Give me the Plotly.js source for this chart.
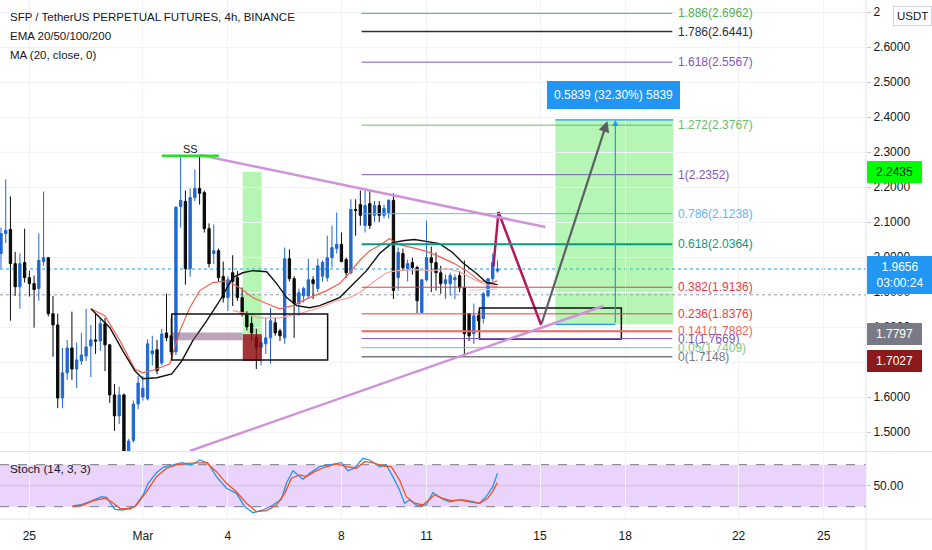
<!DOCTYPE html>
<html><head><meta charset="utf-8">
<script src="https://cdn.plot.ly/plotly-3.0.1.min.js"></script>
<style>html,body{margin:0;padding:0;background:#fff;}#chart{width:932px;height:550px;}</style>
</head><body><div id="chart"></div>
<script>
// ---------- DATA ----------
// 4h candles, first candle = Feb 24 00:00; x axis unit = days relative to Mar 1
const firstCandleDay = -5;
const candleStepDays = 1 / 6;
const candleOpen = [2.010,2.067,2.079,1.981,1.915,1.984,1.941,1.924,1.910,1.987,1.998,1.838,1.806,1.597,1.669,1.740,1.680,1.703,1.717,1.746,1.763,1.760,1.809,1.749,1.606,1.546,1.606,1.445,1.476,1.580,1.600,1.595,1.723,1.735,1.697,1.783,1.775,1.729,2.144,2.159,1.967,2.170,2.196,2.184,2.081,2.010,2.018,1.944,1.884,1.955,1.941,1.884,1.838,1.810,1.770,1.742,1.752,1.769,1.812,1.789,1.769,1.995,1.938,1.867,1.889,1.889,1.935,1.910,1.945,1.941,1.998,2.024,2.036,1.993,1.955,2.136,2.150,2.090,2.153,2.119,2.147,2.119,2.127,2.162,1.941,2.010,1.967,1.984,1.970,1.841,1.935,1.998,1.984,1.955,1.924,1.924,1.935,1.947,1.912,1.838,1.781,1.832,1.824,1.889,1.938,1.960];
const candleHigh = [2.084,2.222,2.173,2.015,2.010,2.081,1.961,1.947,2.067,2.187,2.000,1.889,1.838,1.740,1.763,1.844,1.755,1.783,1.852,1.806,1.838,1.826,1.826,1.752,1.637,1.629,1.610,1.480,1.590,1.660,1.660,1.765,1.775,1.763,1.795,1.895,1.826,2.145,2.285,2.190,2.196,2.250,2.289,2.190,2.096,2.093,2.024,1.987,1.945,2.005,1.960,1.913,1.845,1.830,1.795,1.775,1.826,1.855,1.826,1.795,2.027,2.022,1.945,1.910,1.915,1.995,1.945,1.995,1.990,2.061,2.090,2.127,2.070,1.998,2.165,2.165,2.190,2.190,2.190,2.160,2.160,2.150,2.165,2.182,2.027,2.024,1.993,1.998,1.975,1.935,2.104,2.030,2.013,1.975,1.950,1.955,1.950,1.960,1.990,1.840,1.867,1.845,1.900,1.938,2.010,1.990];
const candleLow = [1.967,2.040,1.818,1.889,1.852,1.927,1.887,1.798,1.875,1.975,1.830,1.715,1.568,1.568,1.649,1.649,1.626,1.692,1.703,1.657,1.723,1.732,1.674,1.583,1.503,1.523,1.425,1.425,1.470,1.565,1.590,1.590,1.690,1.665,1.690,1.760,1.720,1.720,2.084,1.921,1.944,2.160,2.150,2.070,1.970,1.980,1.930,1.870,1.846,1.860,1.875,1.830,1.790,1.760,1.680,1.690,1.723,1.695,1.775,1.760,1.752,1.930,1.769,1.832,1.870,1.880,1.880,1.900,1.930,1.930,1.970,2.010,1.985,1.940,1.950,2.061,2.090,2.070,2.080,2.100,2.100,2.110,2.110,1.880,1.904,1.960,1.930,1.950,1.840,1.841,1.930,1.900,1.904,1.895,1.880,1.890,1.880,1.900,1.718,1.760,1.752,1.790,1.810,1.885,1.930,1.955];
const candleClose = [2.067,2.076,1.981,1.915,1.981,1.941,1.924,1.907,1.990,1.998,1.838,1.806,1.597,1.669,1.740,1.680,1.706,1.720,1.743,1.763,1.760,1.809,1.749,1.606,1.546,1.606,1.445,1.474,1.580,1.640,1.625,1.752,1.732,1.675,1.780,1.769,1.729,2.142,2.162,1.967,2.170,2.196,2.182,2.081,1.981,2.018,1.941,1.884,1.935,1.930,1.884,1.838,1.800,1.783,1.742,1.755,1.769,1.818,1.783,1.775,1.995,1.938,1.867,1.898,1.910,1.935,1.924,1.975,1.985,1.998,2.027,2.036,1.987,1.955,2.136,2.133,2.119,2.147,2.090,2.147,2.119,2.139,2.162,1.904,2.013,1.970,1.981,1.970,1.875,1.935,1.998,1.984,1.955,1.924,1.935,1.947,1.941,1.912,1.781,1.775,1.832,1.818,1.895,1.938,1.984,1.9656];

// Indicator lines
const ma20Days = [-1.831,-1.162,-0.704,-0.282,0,0.493,1.021,1.373,1.761,2.254,2.711,3.169,3.521,3.873,4.366,4.718,5.070,5.423,5.880,6.232,6.937,7.289,7.887,8.345,8.803,9.225,9.577,10.035,10.458,10.915,11.268,11.761,12.113,12.5];
const ma20Vals = [1.852,1.798,1.732,1.675,1.652,1.655,1.666,1.703,1.761,1.818,1.875,1.941,1.955,1.961,1.958,1.924,1.884,1.861,1.855,1.861,1.884,1.912,1.961,2.010,2.041,2.047,2.050,2.044,2.038,2.013,1.984,1.953,1.927,1.921];
const ema20Days = [-1.831,-1.338,-0.810,-0.282,0,0.493,0.951,1.303,1.655,2.007,2.465,2.958,3.415,3.873,4.366,4.824,5.282,5.880,6.479,6.937,7.289,7.641,7.993,8.345,8.697,8.979,9.507,10.0,10.458,10.915,11.408,11.866,12.324,12.5];
const ema20Vals = [1.852,1.832,1.761,1.680,1.669,1.680,1.695,1.789,1.855,1.904,1.927,1.932,1.912,1.884,1.867,1.852,1.861,1.884,1.904,1.924,1.955,1.990,2.018,2.033,2.053,2.036,2.027,2.016,2.001,1.984,1.961,1.932,1.927,1.932];
const ema50Days = [3.17,3.662,4.120,4.824,5.528,6.232,6.831,7.289,7.641,8.099,8.592,8.944,9.648,10.211,10.704,11.162,11.761,12.218,12.5];
const ema50Vals = [1.847,1.838,1.826,1.826,1.838,1.855,1.875,1.884,1.898,1.927,1.955,1.961,1.964,1.961,1.967,1.958,1.932,1.918,1.915];
const ema100Days = [11.5,12.5];
const ema100Vals = [1.905,1.908];

// Stochastic (14,3,3)
const stochKDays = [-2.475,-2.218,-1.866,-1.454,-1.278,-0.986,-0.694,-0.458,-0.282,0.011,0.187,0.482,0.715,1.067,1.363,1.715,2.007,2.299,2.595,2.947,3.299,3.592,3.884,4.236,4.588,4.884,5.060,5.292,5.468,5.644,5.880,6.232,6.585,6.996,7.229,7.465,7.757,7.993,8.345,8.581,8.813,9.049,9.225,9.401,9.694,9.989,10.222,10.574,10.810,11.162,11.454,11.866,12.102,12.335,12.5];
const stochK = [21.0,22.4,27.1,34.3,33.4,16.3,15.3,17.7,20,36.7,53.4,68.6,76.3,79.6,82.9,79.6,86.7,82,62.9,46.3,39.1,20,11.4,15.3,22.4,30.6,53.4,71.4,65.3,59.1,67.7,77.1,79.6,82.9,71.4,74.9,89.1,86.7,77.1,79.6,62.9,43.9,24.9,29.6,21,22.4,40,30.6,27.1,29.6,27.1,24.9,34.3,48.6,67.7];
const stochDDays = [-2.475,-2.102,-1.750,-1.338,-1.102,-0.810,-0.458,-0.222,0.130,0.482,0.835,1.187,1.539,1.891,2.243,2.595,2.947,3.299,3.651,4.004,4.356,4.708,5.0,5.236,5.528,5.764,6.056,6.408,6.820,7.173,7.525,7.817,8.109,8.461,8.757,9.049,9.285,9.577,9.870,10.282,10.574,10.870,11.278,11.630,11.866,12.158,12.33,12.5];
const stochD = [20,22.4,28.6,32,27.1,17.7,16.7,22.4,41.4,62.9,74.9,79.6,82,82,82.9,70,53.4,41.4,24.9,12.9,14.3,22.4,39.1,60.6,65.3,62.9,70,76.3,81,77.1,74.9,84.3,82.9,78.1,77.1,58.1,34.3,24.9,22.4,36.7,32,28.6,29.6,27.1,24.9,32,42,54.3];

// Fibonacci levels
const fibRatios = ['1.886','1.786','1.618','1.272','1','0.786','0.618','0.382','0.236','0.141','0.1','0.05','0'];
const fibPrices = [2.6962,2.6441,2.5567,2.3767,2.2352,2.1238,2.0364,1.9136,1.8376,1.7882,1.7669,1.7409,1.7148];
const fibColors = ['#4caf50','#2a2e39','#7e57c2','#66bb6a','#7e57c2','#64b5f6','#089981','#f23645','#f23645','#f7625a','#7e57c2','#81c784','#787b86'];
const fibWidths = [1,1.5,1,1,1,1,2,1,1,2,1,1,1.5];

// Price-scale ticks (top one is mostly hidden behind the USDT badge, 1.7 hidden behind the stop label)
const priceTicks = [1.5,1.6,1.7,1.8,1.9,2.0,2.1,2.2,2.3,2.4,2.5,2.6,2.7];
const priceTickLabels = ['1.5000','1.6000','','1.8000','1.9000','2.0000','2.1000','2.2000','2.3000','2.4000','2.5000','2.6000','2'];

// Drawings (days / prices)
const fibStartDay = 7.711, fibEndDay = 18.662, fibLabelDay = 18.80;
const descTrend = {d:[2.007,14.19], p:[2.2914,2.0857]};
const ascTrend = {d:[1.655,16.232], p:[1.4457,1.86]};
const highLine = {d:[0.669,2.676], p:2.2894};
const position = {d:[3.521,4.190], entry:1.7797, stop:1.7027, target:2.2435};
const entryBar = {d:[1.021,3.511], p:[1.762,1.784]};
const box1 = {d:[1.021,6.514], p:[1.7057,1.8371]};
const box2 = {d:[11.866,16.866], p:[1.7657,1.8543]};
const measure = {d:[14.542,18.697], mid:16.655, base:1.8077, top:2.3916, text:'0.5839 (32.30%) 5839'};
const pathDays = [12.359,12.535,14.039];
const pathPrices = [1.974,2.1286,1.8057];
const arrowEnd = {d:16.373, p:2.3886};
const lastPrice = 1.9656, countdown = '03:00:24', grayDotted = 1.892;

const tickDays = [-4,0,3,7,10,14,17,21,24];
const tickText = ['25','Mar','4','8','11','15','18','22','25'];

// ---------- BUILD ----------
const FONT = 'Liberation Sans, Arial, sans-serif';
const PW = 866, PH = 519;
const px = x => x / PW;
const py = y => (PH - y) / PH;
const candleDays = candleOpen.map((_, i) => firstCandleDay + i * candleStepDays);

const traces = [
  {type:'candlestick', x:candleDays, open:candleOpen, high:candleHigh, low:candleLow, close:candleClose,
   xaxis:'x', yaxis:'y', whiskerwidth:0, hoverinfo:'skip',
   increasing:{line:{color:'#1f67d2', width:1}, fillcolor:'#1f67d2'},
   decreasing:{line:{color:'#0a0a0a', width:1}, fillcolor:'#0a0a0a'}},
  {type:'scatter', mode:'lines', x:ema50Days, y:ema50Vals, line:{color:'#f6a398', width:1.2}, hoverinfo:'skip'},
  {type:'scatter', mode:'lines', x:ema100Days, y:ema100Vals, line:{color:'#f8c2bb', width:1.2}, hoverinfo:'skip'},
  {type:'scatter', mode:'lines', x:ema20Days, y:ema20Vals, line:{color:'#f2604f', width:1.2}, hoverinfo:'skip'},
  {type:'scatter', mode:'lines', x:ma20Days, y:ma20Vals, line:{color:'#111', width:1.4}, hoverinfo:'skip'},
  {type:'scatter', mode:'lines', x:pathDays, y:pathPrices, line:{color:'#b0195b', width:2.5}, hoverinfo:'skip'},
  {type:'scatter', mode:'lines', x:stochKDays, y:stochK, xaxis:'x', yaxis:'y2', line:{color:'#2196f3', width:1.3}, hoverinfo:'skip'},
  {type:'scatter', mode:'lines', x:stochDDays, y:stochD, xaxis:'x', yaxis:'y2', line:{color:'#f4511e', width:1.3}, hoverinfo:'skip'}
];

const shapes = [];
const ln = (x0,y0,x1,y1,color,width,extra) => Object.assign({type:'line', xref:'x', yref:'y', x0, y0, x1, y1, line:{color, width}, layer:'above'}, extra||{});
shapes.push({type:'rect', xref:'paper', yref:'y2', x0:0, x1:1, y0:20, y1:80, fillcolor:'#ead4fb', line:{width:0}, layer:'below'});
shapes.push({type:'line', xref:'paper', yref:'y2', x0:0, x1:1, y0:50, y1:50, line:{color:'rgba(120,123,134,0.22)', width:1}, layer:'below'});
shapes.push({type:'line', xref:'paper', yref:'y2', x0:0, x1:1, y0:80, y1:80, line:{color:'#787b86', width:1, dash:'dash'}, layer:'below'});
shapes.push({type:'line', xref:'paper', yref:'y2', x0:0, x1:1, y0:20, y1:20, line:{color:'#787b86', width:1, dash:'dash'}, layer:'below'});
shapes.push({type:'line', xref:'paper', yref:'paper', x0:0, x1:932/PW, y0:py(451.5), y1:py(451.5), line:{color:'#e0e3eb', width:1}});
shapes.push({type:'line', xref:'paper', yref:'paper', x0:0, x1:932/PW, y0:0, y1:0, line:{color:'#e0e3eb', width:1}});
shapes.push({type:'line', xref:'paper', yref:'paper', x0:1, x1:1, y0:py(550), y1:1, line:{color:'#e0e3eb', width:1}});
shapes.push({type:'line', xref:'paper', yref:'y', x0:0, x1:1, y0:grayDotted, y1:grayDotted, line:{color:'#9598a1', width:1, dash:'dot'}, layer:'below'});
shapes.push({type:'line', xref:'paper', yref:'y', x0:0, x1:1, y0:lastPrice, y1:lastPrice, line:{color:'#2196f3', width:1, dash:'dot'}, layer:'below'});
shapes.push({type:'rect', xref:'x', yref:'y', x0:measure.d[0], x1:measure.d[1], y0:measure.base, y1:measure.top, fillcolor:'rgba(60,232,60,0.38)', line:{width:0}, layer:'below'});
shapes.push({type:'rect', xref:'x', yref:'y', x0:position.d[0], x1:position.d[1], y0:position.entry, y1:position.target, fillcolor:'rgba(60,232,60,0.38)', line:{width:0}, layer:'below'});
shapes.push({type:'rect', xref:'x', yref:'y', x0:position.d[0], x1:position.d[1], y0:position.stop, y1:position.entry, fillcolor:'rgba(139,10,10,0.82)', line:{width:0}, layer:'above'});
shapes.push({type:'rect', xref:'x', yref:'y', x0:entryBar.d[0], x1:entryBar.d[1], y0:entryBar.p[0], y1:entryBar.p[1], fillcolor:'rgba(120,75,120,0.5)', line:{width:0}, layer:'above'});
shapes.push({type:'rect', xref:'x', yref:'y', x0:box1.d[0], x1:box1.d[1], y0:box1.p[0], y1:box1.p[1], line:{color:'#111', width:1.5}, layer:'above'});
shapes.push({type:'rect', xref:'x', yref:'y', x0:box2.d[0], x1:box2.d[1], y0:box2.p[0], y1:box2.p[1], line:{color:'#111', width:1.5}, layer:'above'});
fibPrices.forEach((p, i) => shapes.push(ln(fibStartDay, p, fibEndDay, p, fibColors[i], fibWidths[i])));
shapes.push(ln(measure.d[0], measure.top, measure.d[1], measure.top, '#2196f3', 1.2));
shapes.push(ln(measure.d[0], measure.base, measure.mid, measure.base, '#2196f3', 1.2));
shapes.push(ln(descTrend.d[0], descTrend.p[0], descTrend.d[1], descTrend.p[1], '#cf93d9', 2.5));
shapes.push(ln(ascTrend.d[0], ascTrend.p[0], ascTrend.d[1], ascTrend.p[1], '#cf93d9', 2.5));
shapes.push(ln(highLine.d[0], highLine.p, highLine.d[1], highLine.p, '#22e022', 2.5));

const annotations = [];
const hdr = (t, y, size) => ({xref:'paper', yref:'paper', x:px(8), y:py(y), xanchor:'left', yanchor:'middle', text:t, showarrow:false, font:{family:FONT, size:size||11.5, color:'#131722'}});
annotations.push(hdr('SFP / TetherUS PERPETUAL FUTURES, 4h, BINANCE', 17));
annotations.push(hdr('EMA 20/50/100/200', 36));
annotations.push(hdr('MA (20, close, 0)', 55));
annotations.push(hdr('Stoch (14, 3, 3)', 469, 11.8));
fibPrices.forEach((p, i) => annotations.push({xref:'x', yref:'y', x:fibLabelDay, y:p, xanchor:'left', yanchor:'middle', showarrow:false,
  text:fibRatios[i] + '(' + p.toFixed(4) + ')', font:{family:FONT, size:12, color:fibColors[i]}}));
annotations.push({xref:'x', yref:'y', x:1.69, y:2.31, text:'SS', showarrow:false, font:{family:FONT, size:11, color:'#131722'}});
annotations.push({xref:'x', yref:'y', x:16.60, y:2.4629, text:measure.text, showarrow:false, bgcolor:'#2196f3', bordercolor:'#2196f3', borderpad:6, font:{family:FONT, size:12, color:'#fff'}});
annotations.push({xref:'x', yref:'y', axref:'x', ayref:'y', x:measure.mid, y:measure.top, ax:measure.mid, ay:measure.base, text:'', showarrow:true, arrowhead:2, arrowsize:1, arrowwidth:1.2, arrowcolor:'#2196f3', standoff:0});
annotations.push({xref:'x', yref:'y', axref:'x', ayref:'y', x:arrowEnd.d, y:arrowEnd.p, ax:pathDays[2], ay:pathPrices[2], text:'', showarrow:true, arrowhead:2, arrowsize:1, arrowwidth:2.2, arrowcolor:'#5d5f66', standoff:0});
const axLab = (price, text, bg, fg, w, ys) => ({xref:'paper', yref:'y', x:1, xshift:1, y:price, yshift:ys||0, xanchor:'left', yanchor:'middle', text, showarrow:false, bgcolor:bg, bordercolor:bg, borderpad:3, width:w, align:'center', font:{family:FONT, size:12, color:fg}});
annotations.push(axLab(position.target, '2.2435', '#00ff00', '#131722', 47));
annotations.push(axLab(lastPrice, '1.9656<br>' + countdown, '#2196f3', '#ffffff', 58, -6));
annotations.push(axLab(position.entry, '1.7797', '#787b86', '#ffffff', 47));
annotations.push(axLab(position.stop, '1.7027', '#8c1a1a', '#ffffff', 47));
annotations.push({xref:'paper', yref:'paper', x:px(912), y:py(16), xanchor:'center', yanchor:'middle', text:'USDT', showarrow:false, bgcolor:'#ffffff', bordercolor:'#d1d4dc', borderwidth:1, borderpad:3, font:{family:FONT, size:11.5, color:'#131722'}});

const layout = {
  width:932, height:550, margin:{l:0, r:66, t:0, b:31, pad:0},
  paper_bgcolor:'#ffffff', plot_bgcolor:'#ffffff', showlegend:false, dragmode:false,
  font:{family:FONT, size:12, color:'#131722'},
  xaxis:{range:[-5.035, 25.49], domain:[0,1], anchor:'y2', tickmode:'array', tickvals:tickDays, ticktext:tickText,
    showgrid:true, gridcolor:'#f0f3fa', gridwidth:1, zeroline:false, showline:false, ticks:'outside', ticklen:6, tickcolor:'rgba(0,0,0,0)',
    tickfont:{family:FONT, size:12, color:'#131722'}, rangeslider:{visible:false}, fixedrange:true},
  yaxis:{domain:[68/519, 1], range:[1.4457, 2.7343], side:'right', anchor:'x', tickmode:'array', tickvals:priceTicks, ticktext:priceTickLabels,
    showgrid:true, gridcolor:'#f0f3fa', zeroline:false, showline:false, ticks:'outside', ticklen:4, tickcolor:'#c9ccd4',
    tickfont:{family:FONT, size:12, color:'#131722'}, fixedrange:true},
  yaxis2:{domain:[0, 67/519], range:[2.43, 98.1], side:'right', anchor:'x', tickmode:'array', tickvals:[50], ticktext:['50.00'],
    showgrid:false, zeroline:false, showline:false, ticks:'outside', ticklen:4, tickcolor:'#c9ccd4',
    tickfont:{family:FONT, size:12, color:'#131722'}, fixedrange:true},
  shapes, annotations
};
Plotly.newPlot('chart', traces, layout, {staticPlot:true, displayModeBar:false});
</script></body></html>
